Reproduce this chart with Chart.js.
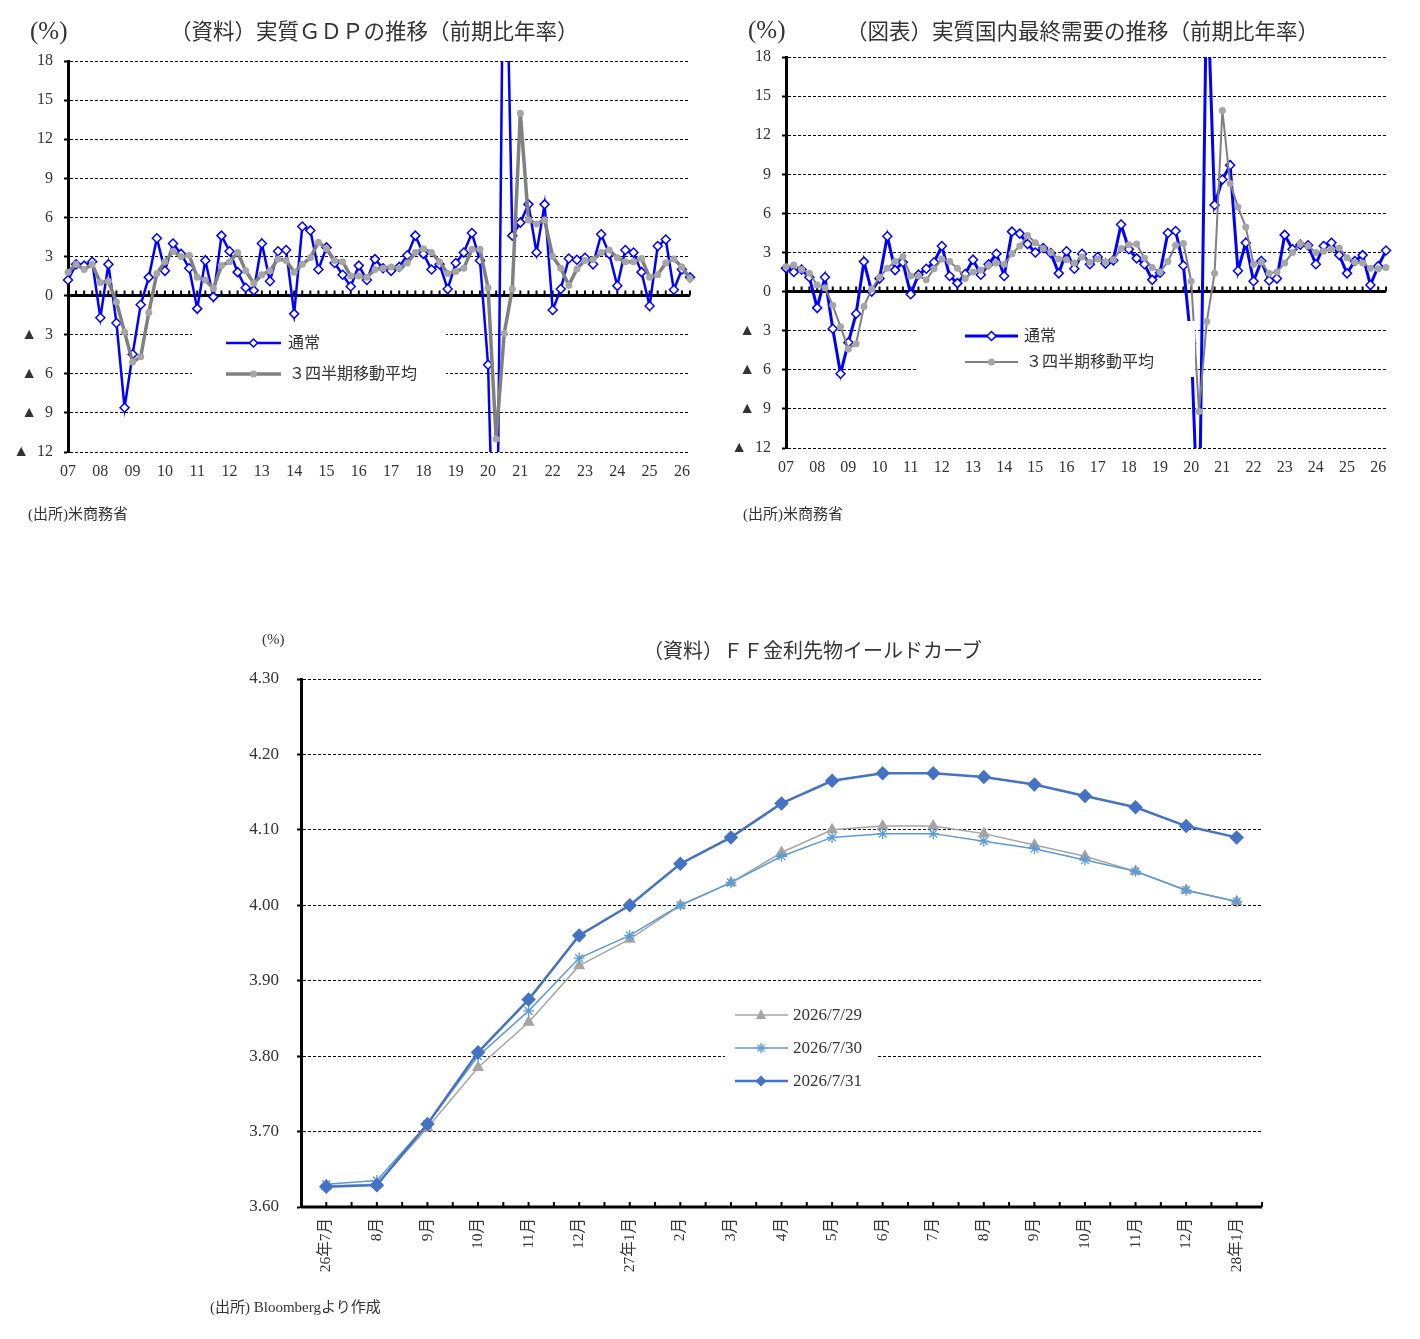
<!DOCTYPE html>
<html>
<head>
<meta charset="utf-8">
<script src="https://cdn.jsdelivr.net/npm/chart.js@4.4.1/dist/chart.umd.min.js"></script>
<style>
  body { margin: 0; background: #fff; width: 1420px; height: 1339px; position: relative; overflow: hidden;
         font-family: "Liberation Serif", "Noto Sans CJK JP", serif; color: #333; }
  .txt { position: absolute; white-space: nowrap; line-height: 1; }
  canvas { position: absolute; }
  #overlay { position: absolute; left: 0; top: 0; pointer-events: none; }
</style>
</head>
<body>

<canvas id="gdpChart" width="700" height="500" style="left:0;top:0"></canvas>
<canvas id="demandChart" width="700" height="500" style="left:710px;top:0"></canvas>
<canvas id="ffChart" width="1100" height="720" style="left:200px;top:560px"></canvas>

<!-- white legend boxes and legend symbols -->
<svg id="overlay" width="1420" height="1339">
  <rect x="192" y="322" width="254" height="66" fill="#fff"/>
  <line x1="226" y1="343" x2="281" y2="343" stroke="#0000ff" stroke-width="2.5"/>
  <polygon points="253.5,339 257.5,343 253.5,347 249.5,343" fill="#fff" stroke="#0000ff" stroke-width="1.5"/>
  <line x1="226" y1="374" x2="281" y2="374" stroke="#808080" stroke-width="3.5"/>
  <circle cx="253.5" cy="374" r="3.5" fill="#a6a6a6"/>

  <rect x="918" y="321" width="277" height="56" fill="#fff"/>
  <line x1="965" y1="336" x2="1018" y2="336" stroke="#0000ff" stroke-width="3"/>
  <polygon points="991.5,331.5 996,336 991.5,340.5 987,336" fill="#fff" stroke="#0000ff" stroke-width="1.5"/>
  <line x1="965" y1="362" x2="1018" y2="362" stroke="#808080" stroke-width="2"/>
  <circle cx="991.5" cy="362" r="3.5" fill="#a6a6a6"/>

  <rect x="725" y="992" width="152" height="110" fill="#fff"/>
  <line x1="735" y1="1015" x2="788" y2="1015" stroke="#a5a5a5" stroke-width="1.5"/>
  <polygon points="761,1009 766,1019 756,1019" fill="#a5a5a5"/>
  <line x1="735" y1="1048" x2="788" y2="1048" stroke="#5b9bd5" stroke-width="1.5"/>
  <g stroke="#5b9bd5" stroke-width="1.3">
    <line x1="756" y1="1048" x2="766" y2="1048"/><line x1="761" y1="1043" x2="761" y2="1053"/>
    <line x1="757.5" y1="1044.5" x2="764.5" y2="1051.5"/><line x1="757.5" y1="1051.5" x2="764.5" y2="1044.5"/>
  </g>
  <line x1="735" y1="1081" x2="788" y2="1081" stroke="#4472c4" stroke-width="2.5"/>
  <polygon points="761,1075.5 766.5,1081 761,1086.5 755.5,1081" fill="#4472c4"/>
</svg>

<div class="txt" style="left:30px;top:18px;font-size:25px;">(%)</div>
<div class="txt" style="left:170px;top:22px;font-size:21.5px;">（資料）実質ＧＤＰの推移（前期比年率）</div>
<div class="txt" style="left:288px;top:335px;font-size:16px;">通常</div>
<div class="txt" style="left:289px;top:366px;font-size:16px;">３四半期移動平均</div>
<div class="txt" style="left:28px;top:507px;font-size:15px;">(出所)米商務省</div>

<div class="txt" style="left:748px;top:17px;font-size:25px;">(%)</div>
<div class="txt" style="left:846px;top:22px;font-size:21.5px;">（図表）実質国内最終需要の推移（前期比年率）</div>
<div class="txt" style="left:1024px;top:328px;font-size:16px;">通常</div>
<div class="txt" style="left:1026px;top:354px;font-size:16px;">３四半期移動平均</div>
<div class="txt" style="left:743px;top:507px;font-size:15px;">(出所)米商務省</div>

<div class="txt" style="left:262px;top:632px;font-size:15px;">(%)</div>
<div class="txt" style="left:643px;top:641px;font-size:20px;">（資料）ＦＦ金利先物イールドカーブ</div>
<div class="txt" style="left:793px;top:1006px;font-size:17px;">2026/7/29</div>
<div class="txt" style="left:793px;top:1039px;font-size:17px;">2026/7/30</div>
<div class="txt" style="left:793px;top:1072px;font-size:17px;">2026/7/31</div>
<div class="txt" style="left:210px;top:1300px;font-size:15px;">(出所) Bloombergより作成</div>

<script>
// quarterly axis 2007Q1 - 2026Q2
const yearTicks = ['07', '08', '09', '10', '11', '12', '13', '14', '15', '16',
                   '17', '18', '19', '20', '21', '22', '23', '24', '25', '26'];
let quarterLabels = [];
yearTicks.forEach(y => { ['Q1', 'Q2', 'Q3', 'Q4'].forEach(q => quarterLabels.push(y + q)); });
quarterLabels = quarterLabels.slice(0, 78);

// real GDP, q/q annualised (%)
const gdpRate = [1.2, 2.4, 2.3, 2.6, -1.7, 2.4, -2.1, -8.6, -4.5, -0.7,
                 1.4, 4.4, 1.9, 4.0, 3.2, 2.1, -1.0, 2.7, -0.1, 4.6,
                 3.4, 1.8, 0.6, 0.4, 4.0, 1.1, 3.4, 3.5, -1.4, 5.3,
                 5.0, 2.0, 3.7, 2.5, 1.6, 0.7, 2.3, 1.2, 2.8, 2.1,
                 1.9, 2.2, 3.1, 4.6, 3.2, 2.0, 2.4, 0.5, 2.5, 3.3,
                 4.8, 2.7, -5.3, -28.0, 35.0, 4.6, 5.6, 7.0, 3.3, 7.0,
                 -1.1, 0.5, 2.85, 2.75, 2.9, 2.4, 4.7, 3.2, 0.75, 3.5,
                 3.3, 1.8, -0.8, 3.8, 4.3, 0.45, 2.0, 1.4];
const gdpAvg3 = [1.8, 2.4, 2.0, 2.4, 1.0, 1.1, -0.5, -2.8, -5.1, -4.7,
                 -1.3, 1.7, 2.6, 3.4, 3.0, 3.1, 1.4, 1.2, 0.55, 2.3,
                 2.6, 3.3, 1.9, 0.95, 1.6, 1.9, 2.8, 2.7, 1.8, 2.4,
                 2.9, 4.1, 3.6, 2.7, 2.6, 1.5, 1.5, 1.4, 2.0, 2.1,
                 2.2, 2.1, 2.5, 3.3, 3.6, 3.3, 2.6, 1.7, 1.85, 2.1,
                 3.55, 3.55, 0.6, -11.0, -2.9, 0.5, 14.0, 5.8, 5.5, 5.8,
                 3.0, 2.1, 0.8, 2.05, 2.7, 2.75, 3.3, 3.5, 2.9, 2.6,
                 2.6, 2.85, 1.4, 1.6, 2.5, 2.8, 2.2, 1.3];

// real final domestic demand, q/q annualised (%)
const demandRate = [1.8, 1.5, 1.7, 1.1, -1.25, 1.1, -2.85, -6.3, -3.9, -1.7,
                    2.3, 0.0, 1.0, 4.25, 1.65, 2.25, -0.2, 1.3, 1.75, 2.25,
                    3.5, 1.2, 0.65, 1.35, 2.45, 1.3, 2.1, 2.9, 1.2, 4.6,
                    4.45, 3.65, 3.0, 3.35, 2.95, 1.4, 3.1, 1.75, 2.9, 2.1,
                    2.65, 2.15, 2.4, 5.15, 3.25, 2.55, 2.1, 0.9, 1.45, 4.5,
                    4.65, 2.0, -4.0, -20.0, 25.0, 6.65, 8.6, 9.7, 1.6, 3.75,
                    0.8, 2.35, 0.85, 1.0, 4.35, 3.25, 3.6, 3.55, 2.1, 3.5,
                    3.75, 2.8, 1.4, 2.35, 2.8, 0.5, 1.95, 3.15];
const demandAvg3 = [1.9, 2.05, 1.7, 1.4, 0.5, 0.3, -1.05, -2.7, -4.4, -4.0,
                    -1.15, 0.2, 1.1, 1.8, 2.3, 2.7, 1.2, 1.2, 0.9, 1.75,
                    2.5, 2.3, 1.8, 1.0, 1.5, 1.65, 2.0, 2.2, 2.1, 2.9,
                    3.5, 4.3, 3.75, 3.3, 3.0, 2.5, 2.45, 2.2, 2.65, 2.25,
                    2.5, 2.25, 2.45, 3.3, 3.6, 3.65, 2.55, 1.85, 1.5, 2.3,
                    3.55, 3.7, 0.8, -9.2, -2.3, 1.4, 13.9, 8.3, 6.5, 4.95,
                    2.1, 2.25, 1.4, 1.5, 2.2, 3.0, 3.7, 3.5, 3.0, 3.1,
                    3.25, 3.35, 2.6, 2.25, 2.2, 1.8, 1.75, 1.85];

// FF futures yield curve (%)
const contractMonths = ['26年7月', '8月', '9月', '10月', '11月', '12月', '27年1月', '2月', '3月', '4月',
                        '5月', '6月', '7月', '8月', '9月', '10月', '11月', '12月', '28年1月'];
const ff0729 = [3.628, 3.630, 3.705, 3.785, 3.845, 3.920, 3.955, 4.000, 4.030, 4.070,
                4.100, 4.105, 4.105, 4.095, 4.080, 4.065, 4.045, 4.020, 4.005];
const ff0730 = [3.630, 3.635, 3.710, 3.800, 3.860, 3.930, 3.960, 4.000, 4.030, 4.065,
                4.090, 4.095, 4.095, 4.085, 4.075, 4.060, 4.045, 4.020, 4.005];
const ff0731 = [3.627, 3.629, 3.710, 3.805, 3.875, 3.960, 4.000, 4.055, 4.090, 4.135,
                4.165, 4.175, 4.175, 4.170, 4.160, 4.145, 4.130, 4.105, 4.090];

Chart.defaults.font.family = "'Liberation Serif', 'Noto Sans CJK JP', serif";
Chart.defaults.font.size = 16;
Chart.defaults.color = '#333';
Chart.defaults.animation = false;

// thick zero line with quarter tick marks
const zeroLine = {
    id: 'zeroLine',
    beforeDatasetsDraw(chart) {
        const {ctx, chartArea, scales} = chart;
        const y0 = scales.y.getPixelForValue(0);
        ctx.save();
        ctx.strokeStyle = '#000';
        ctx.lineWidth = 3;
        ctx.beginPath();
        ctx.moveTo(chartArea.left, y0);
        ctx.lineTo(chartArea.right, y0);
        ctx.stroke();
        ctx.lineWidth = 2;
        ctx.beginPath();
        for (let i = 0; i < chart.data.labels.length; i++) {
            const px = scales.x.getPixelForValue(i);
            ctx.moveTo(px, y0);
            ctx.lineTo(px, y0 - 5);
        }
        ctx.stroke();
        ctx.restore();
    }
};

// bottom axis of the yield curve with ticks at centres and edges
const monthAxis = {
    id: 'monthAxis',
    beforeDatasetsDraw(chart) {
        const {ctx, chartArea, scales} = chart;
        const x = scales.x;
        const n = chart.data.labels.length;
        const half = (x.getPixelForValue(1) - x.getPixelForValue(0)) / 2;
        const yb = chartArea.bottom;
        ctx.save();
        ctx.strokeStyle = '#000';
        ctx.lineWidth = 3;
        ctx.beginPath();
        ctx.moveTo(chartArea.left, yb);
        ctx.lineTo(chartArea.right, yb);
        ctx.stroke();
        ctx.lineWidth = 2;
        ctx.beginPath();
        for (let i = 0; i < n; i++) {
            const px = x.getPixelForValue(i);
            [px - half, px].forEach(p => { ctx.moveTo(p, yb); ctx.lineTo(p, yb - 5); });
        }
        ctx.moveTo(x.getPixelForValue(n - 1) + half, yb);
        ctx.lineTo(x.getPixelForValue(n - 1) + half, yb - 5);
        ctx.stroke();
        ctx.restore();
    }
};

function makeQuarterChart(id, rate, avg, s) {
    return new Chart(document.getElementById(id), {
        type: 'line',
        data: {
            labels: quarterLabels,
            datasets: [{
                label: '３四半期移動平均',
                data: avg,
                borderColor: '#808080',
                borderWidth: s.avgWidth,
                pointStyle: 'circle',
                pointRadius: 3.5,
                pointBackgroundColor: '#a6a6a6',
                pointBorderColor: '#a6a6a6',
                pointBorderWidth: 0,
                tension: 0
            }, {
                label: '通常',
                data: rate,
                borderColor: '#0000ff',
                borderWidth: s.rateWidth,
                pointStyle: 'rectRot',
                pointRadius: 4.5,
                pointBackgroundColor: '#ffffff',
                pointBorderColor: '#0000ff',
                pointBorderWidth: 1.5,
                tension: 0
            }]
        },
        options: {
            responsive: false,
            layout: {padding: s.padding},
            plugins: {legend: {display: false}, tooltip: {enabled: false}},
            scales: {
                x: {
                    grid: {display: false, drawTicks: false},
                    border: {display: false},
                    afterFit: (scale) => { scale.height = 30; },
                    ticks: {
                        autoSkip: false,
                        maxRotation: 0,
                        padding: 10,
                        color: '#333',
                        callback: function (v) {
                            const l = this.getLabelForValue(v);
                            return l.endsWith('Q1') ? l.slice(0, 2) : '';
                        }
                    }
                },
                y: {
                    min: -12,
                    max: 18,
                    afterFit: (scale) => { scale.width = s.yWidth; },
                    grid: {color: '#000', lineWidth: 1, tickLength: 4, tickColor: '#000', tickWidth: 2},
                    border: {display: true, color: '#000', width: 3, dash: [3, 2]},
                    ticks: {
                        stepSize: 3,
                        padding: s.yPad,
                        color: '#333',
                        callback: (v) => v < 0 ? '▲\u2002' + Math.abs(v) : String(v)
                    }
                }
            }
        },
        plugins: [zeroLine]
    });
}

makeQuarterChart('gdpChart', gdpRate, gdpAvg3,
    {padding: {left: 0, top: 61, right: 8, bottom: 18}, yWidth: 68, yPad: 11, rateWidth: 2.5, avgWidth: 3.5});
makeQuarterChart('demandChart', demandRate, demandAvg3,
    {padding: {left: 0, top: 57, right: 24, bottom: 22}, yWidth: 76, yPad: 11, rateWidth: 3, avgWidth: 2});

new Chart(document.getElementById('ffChart'), {
    type: 'line',
    data: {
        labels: contractMonths,
        datasets: [{
            label: '2026/7/29',
            data: ff0729,
            order: 3,
            borderColor: '#a5a5a5',
            borderWidth: 1.5,
            pointStyle: 'triangle',
            pointRadius: 5.5,
            pointBackgroundColor: '#a5a5a5',
            pointBorderColor: '#a5a5a5',
            tension: 0
        }, {
            label: '2026/7/30',
            data: ff0730,
            order: 2,
            borderColor: '#5b9bd5',
            borderWidth: 1.5,
            pointStyle: 'star',
            pointRadius: 5.5,
            pointBackgroundColor: '#5b9bd5',
            pointBorderColor: '#5b9bd5',
            pointBorderWidth: 1.3,
            tension: 0
        }, {
            label: '2026/7/31',
            data: ff0731,
            order: 1,
            borderColor: '#4472c4',
            borderWidth: 2.5,
            pointStyle: 'rectRot',
            pointRadius: 5.5,
            pointBackgroundColor: '#4472c4',
            pointBorderColor: '#4472c4',
            tension: 0
        }]
    },
    options: {
        responsive: false,
        layout: {padding: {left: 0, top: 119, right: 38, bottom: 3}},
        plugins: {legend: {display: false}, tooltip: {enabled: false}},
        scales: {
            x: {
                offset: true,
                grid: {display: false, drawTicks: false},
                border: {display: false},
                afterFit: (scale) => { scale.height = 70; },
                ticks: {autoSkip: false, minRotation: 90, maxRotation: 90, padding: 11, color: '#333', font: {size: 15.5}}
            },
            y: {
                min: 3.6,
                max: 4.3,
                afterFit: (scale) => { scale.width = 101; },
                grid: {color: '#000', lineWidth: 1, tickLength: 4, tickColor: '#000', tickWidth: 2},
                border: {display: true, color: '#000', width: 3, dash: [3, 2]},
                ticks: {stepSize: 0.1, padding: 18, color: '#333', font: {size: 17}, callback: (v) => v.toFixed(2)}
            }
        }
    },
    plugins: [monthAxis]
});
</script>
</body>
</html>
